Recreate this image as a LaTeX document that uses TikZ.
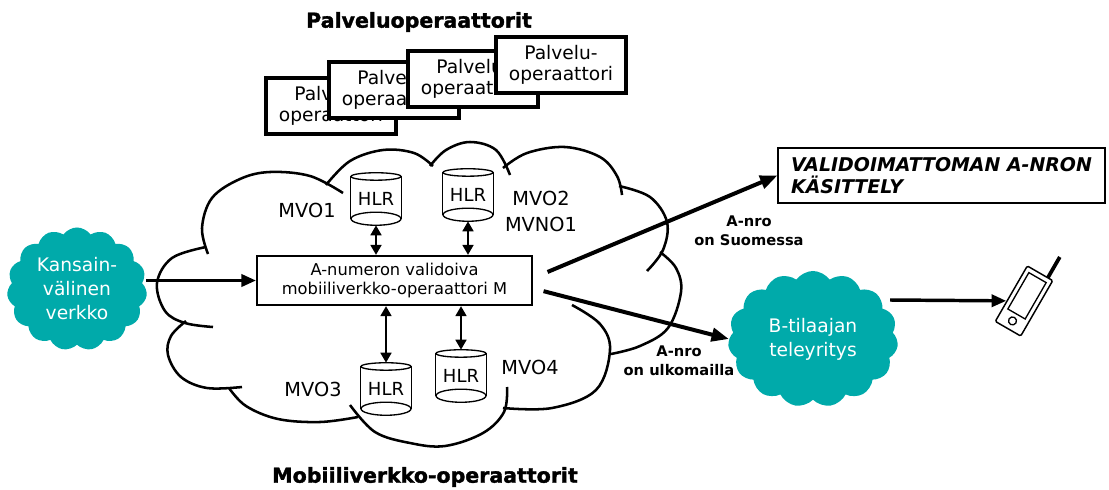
\documentclass[tikz,border=0pt]{standalone}
\usepackage{fontspec}
\setmainfont{DejaVu Sans}
\newfontfamily\heavyfont[FakeBold=1.6]{DejaVu Sans Bold}
\usetikzlibrary{arrows.meta,shapes.symbols}
\definecolor{netteal}{RGB}{0,170,170}

\begin{document}
\begin{tikzpicture}[x=0.75pt,y=-0.75pt,
  title/.style={font=\heavyfont\fontsize{15.4}{18}\selectfont},
  palvbox/.style={draw,line width=3pt,fill=white,minimum width=97.5pt,minimum height=42pt,
    align=center,inner sep=0pt,font=\fontsize{14}{15.75}\selectfont},
  mvobox/.style={draw,line width=1.6pt,fill=white,minimum width=206pt,minimum height=36.75pt,
    align=center,inner sep=0pt,font=\fontsize{12.2}{14.5}\selectfont},
  validbox/.style={draw,line width=1.1pt,minimum width=245pt,minimum height=41pt,inner xsep=9pt,
    align=left,font=\bfseries\itshape\fontsize{14.2}{16}\selectfont},
  hlr/.style={minimum width=37.5pt,minimum height=39pt,inner sep=0pt,font=\fontsize{13.5}{15}\selectfont},
  can/.style={line width=1pt},
  oplabel/.style={font=\fontsize{14.5}{19.5}\selectfont,align=center},
  nrolabel/.style={font=\bfseries\fontsize{11}{14}\selectfont,align=center},
  netcloud/.style={cloud,cloud puffs=15,cloud puff arc=110,fill=netteal,text=white,
    align=center,inner sep=0pt,font=\fontsize{14}{18}\selectfont},
  lobe/.style={line width=1.9pt},
  flow/.style={-{Triangle[length=11pt,width=9pt]},line width=2.6pt},
  bigflow/.style={-{Triangle[length=13pt,width=10pt]},line width=3pt},
  hlrlink/.style={{Triangle[length=7.5pt,width=8pt]}-{Triangle[length=7.5pt,width=8pt]},line width=2.2pt}]
\useasboundingbox (0,0) rectangle (1109,489);

% mobile network cloud, one lobe at a time
\draw[lobe] plot[smooth,tension=0.6] coordinates {(208,254) (202,228) (212,198) (240,179) (270,172) (310,176) (343,193)};
\draw[lobe] plot[smooth,tension=0.6] coordinates {(326,185) (350,161) (383,150) (414,153) (433,166)};
\draw[lobe] plot[smooth,tension=0.6] coordinates {(430,166) (446,150) (470,142) (496,150) (510,175)};
\draw[lobe] plot[smooth,tension=0.6] coordinates {(503,168) (527,153) (565,147) (600,157) (617,176) (622,195)};
\draw[lobe] plot[smooth,tension=0.6] coordinates {(619,186) (650,197) (667,222) (663,250) (647,271)};
\draw[lobe] plot[smooth,tension=0.6] coordinates {(660,252) (676,268) (681,292) (668,328) (640,346) (611,354)};
\draw[lobe] plot[smooth,tension=0.6] coordinates {(572,305) (600,324) (610,350) (596,390) (552,408) (503,408)};
\draw[lobe] plot[smooth,tension=0.6] coordinates {(507,387) (504,412) (483,433) (445,446) (410,443) (375,432) (350,405)};
\draw[lobe] plot[smooth,tension=0.6] coordinates {(229,388) (246,406) (278,419) (320,422) (358,417)};
\draw[lobe] plot[smooth,tension=0.6] coordinates {(186,321) (171,336) (168,355) (181,377) (207,388) (242,387)};
\draw[lobe] plot[smooth,tension=0.6] coordinates {(206,247) (172,258) (157,283) (165,311) (185,323) (213,327)};

\node(ptitle) at (419,22)[title]        {Palveluoperaattorit};
\node(mtitle) at (425,477)[title]       {Mobiiliverkko-operaattorit};

\foreach \n/\x/\y in {1/331/106, 2/394/90, 3/473/79, 4/561/65}
  \node(palv\n) at (\x,\y)[palvbox]     {Palvelu-\\operaattori};

\node(mvo) at (394.5,280.5)[mvobox]     {A-numeron validoiva\\mobiiliverkko-operaattori M};

\foreach \n/\x/\y in {1/376/199, 2/468/195, 3/386/389, 4/461/376} {
  \node(hlr\n) at (\x,\y)[hlr]          {HLR};
  \draw[can] ([yshift=-2.8pt]hlr\n.north) ellipse [x radius=18.75pt,y radius=2.8pt];
  \draw[can] ([yshift=4.9pt]hlr\n.south) ellipse [x radius=18.75pt,y radius=4.9pt];
  \draw[can] ([yshift=-2.8pt]hlr\n.north west) -- ([yshift=4.9pt]hlr\n.south west);
  \draw[can] ([yshift=-2.8pt]hlr\n.north east) -- ([yshift=4.9pt]hlr\n.south east);
}

\node(mvo1) at (307,210)[oplabel]       {MVO1};
\node(mvo2) at (541,211)[oplabel]       {MVO2\\MVNO1};
\node(mvo3) at (313,389)[oplabel]       {MVO3};
\node(mvo4) at (530,367)[oplabel]       {MVO4};

\node(kv) at (77,289)[netcloud,minimum width=105pt,minimum height=69pt]        {Kansain-\\välinen\\verkko};
\node(bcloud) at (813,339)[netcloud,minimum width=127.5pt,minimum height=88.5pt] {B-tilaajan\\teleyritys};

\node(valid) at (941.5,175.5)[validbox] {VALIDOIMATTOMAN A-NRON\\KÄSITTELY};

\node(fin) at (749,231)[nrolabel]       {A-nro\\on Suomessa};
\node(ulk) at (679,361)[nrolabel]       {A-nro\\on ulkomailla};

% handset
\node(phone) at (1024,301)[draw,line width=1.1pt,rotate=-30,minimum width=22pt,minimum height=48pt,rounded corners=1pt] {};
\begin{scope}[shift={(phone.center)},rotate=-30]
  \draw[can] (-10,-27) rectangle (10,15);
  \draw[can] (0,23) circle [radius=3pt];
  \draw[line width=2.8pt] (9,-32) -- (9,-56);
\end{scope}
\coordinate(bout) at (890,300);

\path [hlrlink]
  (hlr1)      edge      (mvo.north -| hlr1)
  (hlr2)      edge      (mvo.north -| hlr2)
  (hlr3)      edge      (mvo.south -| hlr3)
  (hlr4)      edge      (mvo.south -| hlr4);

\path [flow]
  (kv.east |- mvo.west)      edge      (mvo.west)
  (bout)                     edge      (phone);

\path [bigflow]
  ([xshift=11pt,yshift=6.4pt]mvo.east)   edge   (valid.west)
  ([xshift=8pt,yshift=-8pt]mvo.east)     edge   (bcloud.west);
\end{tikzpicture}
\end{document}
